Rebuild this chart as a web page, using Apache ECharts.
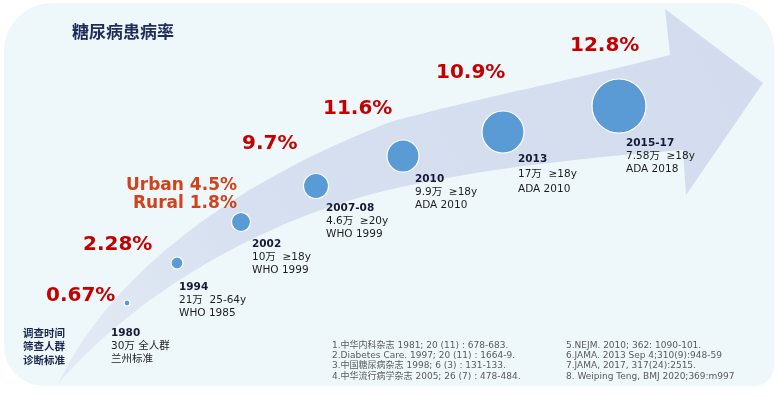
<!DOCTYPE html>
<html>
<head>
<meta charset="utf-8">
<script src="https://cdn.jsdelivr.net/npm/echarts@6/dist/echarts.min.js"></script>
<style>
html,body{margin:0;padding:0;background:#ffffff;}
#chart{width:780px;height:398px;}
</style>
</head>
<body>
<div id="chart"></div>
<script>
// ---- data ----
const titleText = '糖尿病患病率';
const years = ['1980', '1994', '2002', '2007-08', '2010', '2013', '2015-17'];
const samples = ['30万 全人群', '21万  25-64y', '10万  ≥18y', '4.6万  ≥20y', '9.9万  ≥18y', '17万  ≥18y', '7.58万  ≥18y'];
const criteria = ['兰州标准', 'WHO 1985', 'WHO 1999', 'WHO 1999', 'ADA 2010', 'ADA 2010', 'ADA 2018'];
const prevalenceLabels = ['0.67%', '2.28%', 'Urban 4.5%', 'Rural 1.8%', '9.7%', '11.6%', '10.9%', '12.8%'];
const prevalenceKind = ['total', 'total', 'split', 'split', 'total', 'total', 'total', 'total'];
const rowHeads = ['调查时间', '筛查人群', '诊断标准'];
const refsLeft = [
  '1.中华内科杂志 1981; 20 (11) : 678-683.',
  '2.Diabetes Care. 1997; 20 (11) : 1664-9.',
  '3.中国糖尿病杂志 1998; 6 (3) : 131-133.',
  '4.中华流行病学杂志 2005; 26 (7) : 478-484.'
];
const refsRight = [
  '5.NEJM. 2010; 362: 1090-101.',
  '6.JAMA. 2013 Sep 4;310(9):948-59',
  '7.JAMA, 2017, 317(24):2515.',
  '8. Weiping Teng, BMJ 2020;369:m997'
];
// schematic placement along the arrow (chart units)
const bubbleX = [127, 177, 241, 316, 403, 503, 619];
const bubbleY = [303, 263, 222, 186, 156, 132, 106];
const bubbleR = [3, 6, 9.5, 12.5, 16, 21, 27];
const pctX = [46, 83, 126, 133, 242, 323, 436, 570];
const pctY = [296, 245, 186, 204, 144, 109, 73, 46];
const descX = [111, 179, 252, 326, 415, 518, 626];
const descY = [333, 287, 244, 208, 179, 159, 143];

// ---- drawing ----
const FONT = "'DejaVu Sans', 'Noto Sans CJK SC', sans-serif";
const CJK = "'Noto Sans CJK SC', sans-serif";
const chart = echarts.init(document.getElementById('chart'), null, {renderer: 'canvas'});

function cubic(p0, p1, p2, p3, n) {
  const pts = [];
  for (let i = 0; i <= n; i++) {
    const t = i / n, u = 1 - t;
    pts.push([
      u*u*u*p0[0] + 3*u*u*t*p1[0] + 3*u*t*t*p2[0] + t*t*t*p3[0],
      u*u*u*p0[1] + 3*u*u*t*p1[1] + 3*u*t*t*p2[1] + t*t*t*p3[1]
    ]);
  }
  return pts;
}
const arrowPts = [].concat(
  cubic([58,384],[105,285],[215,190],[390,122],40),
  cubic([390,122],[470,100],[580,78],[670,55],30),
  [[665,9],[763,83],[686,195],[683,150]],
  cubic([683,150],[580,158],[470,170],[380,192],30),
  cubic([380,192],[250,225],[130,300],[58,384],40)
);

const graphics = [
  {type: 'rect', z: -20, silent: true,
   shape: {x: 4, y: 3, width: 770, height: 383, r: [48, 45, 20, 40]},
   style: {fill: '#eef8fa'}},
  {type: 'polygon', z: -10, silent: true,
   shape: {points: arrowPts},
   style: {fill: new echarts.graphic.LinearGradient(0, 1, 1, 0, [
     {offset: 0, color: '#e4ebf5'},
     {offset: 0.3, color: '#d6e0f0'},
     {offset: 1, color: '#d2dcee'}
   ])}}
];
rowHeads.forEach((t, i) => {
  graphics.push({type: 'text', z: 5, silent: true, x: 23, y: 333 + i * 13.5,
    style: {text: t, fill: '#1a2550', font: 'bold 10.5px ' + CJK, textVerticalAlign: 'middle'}});
});
refsLeft.forEach((t, i) => {
  graphics.push({type: 'text', z: 5, silent: true, x: 332, y: 345.7 + i * 10.2,
    style: {text: t, fill: '#5a5a5a', font: '9px ' + FONT, textVerticalAlign: 'middle'}});
});
refsRight.forEach((t, i) => {
  graphics.push({type: 'text', z: 5, silent: true, x: 566, y: 345.7 + i * 10.2,
    style: {text: t, fill: '#5a5a5a', font: '9px ' + FONT, textVerticalAlign: 'middle'}});
});

const bubbleData = years.map((y, i) => ({name: y, value: [bubbleX[i], bubbleY[i]], symbolSize: bubbleR[i] * 2}));
const pctData = prevalenceLabels.map((t, i) => ({
  name: t, value: [pctX[i], pctY[i]],
  label: prevalenceKind[i] === 'split'
    ? {fontSize: 17, color: '#d2421a'}
    : {fontSize: 20, color: '#c40000'}
}));
const LH = 13;
const wideLH = {'2013': 15};
const descData = years.map((y, i) => {
  const lh = wideLH[y] || LH;
  return {
    name: y, value: [descX[i], descY[i] - lh / 2],
    label: {
      formatter: '{y|' + y + '}\n{d|' + samples[i] + '}\n{d|' + criteria[i] + '}',
      rich: {
        y: {fontFamily: FONT, fontWeight: 'bold', fontSize: 10.5, color: '#161a38', lineHeight: lh},
        d: {fontFamily: FONT, fontSize: 10.5, color: '#1e1e1e', lineHeight: lh}
      }
    }
  };
});

chart.setOption({
  animation: false,
  backgroundColor: 'transparent',
  title: {text: titleText, left: 67, top: 18,
    textStyle: {fontFamily: CJK, fontSize: 17, fontWeight: 'bold', color: '#1f2d5c'}},
  graphic: graphics,
  grid: {left: 0, right: 0, top: 0, bottom: 0},
  xAxis: {type: 'value', min: 0, max: 780, show: false},
  yAxis: {type: 'value', min: 0, max: 398, inverse: true, show: false},
  series: [
    {type: 'scatter', z: 5, silent: true, data: bubbleData,
     itemStyle: {color: '#5b9bd5', borderColor: '#ffffff', borderWidth: 1.2, opacity: 1}},
    {type: 'scatter', z: 6, silent: true, symbolSize: 0, data: pctData,
     itemStyle: {opacity: 1},
     label: {show: true, position: 'right', distance: 0, formatter: '{b}',
       fontFamily: FONT, fontWeight: 'bold', verticalAlign: 'middle'}},
    {type: 'scatter', z: 6, silent: true, symbolSize: 0, data: descData,
     itemStyle: {opacity: 1},
     label: {show: true, position: 'right', distance: 0, verticalAlign: 'top', align: 'left'}}
  ]
});
</script>
</body>
</html>
